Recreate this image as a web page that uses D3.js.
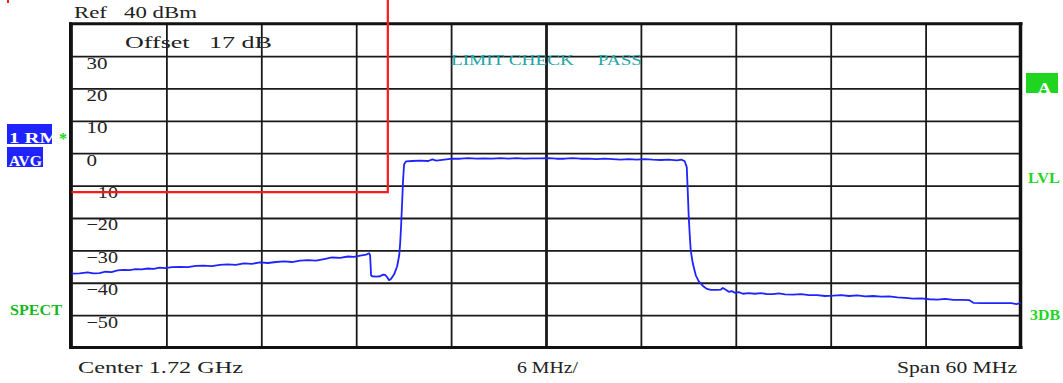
<!DOCTYPE html>
<html>
<head>
<meta charset="utf-8">
<script src="https://cdn.jsdelivr.net/npm/d3@7"></script>
<style>
  html, body { margin: 0; padding: 0; background: #fff; }
  svg { display: block; }
  text { font-family: "Liberation Serif", serif; white-space: pre; }
</style>
</head>
<body>
<div class="screen"></div>
<script>
'use strict';

// Trace 1 (RM / AVG), frequency in MHz, level in dBm
var freqMHz = [
  1690.00, 1690.51, 1691.01, 1691.39, 1691.77, 1692.15, 1692.53, 1692.91, 1693.29, 1693.67,
  1694.05, 1694.44, 1694.82, 1695.20, 1695.58, 1695.96, 1696.34, 1696.84, 1697.35, 1697.86,
  1698.36, 1698.87, 1699.38, 1699.88, 1700.39, 1700.90, 1701.40, 1701.91, 1702.42, 1702.93,
  1703.43, 1703.94, 1704.45, 1704.95, 1705.46, 1705.97, 1706.47, 1706.98, 1707.49, 1707.87,
  1708.25, 1708.63, 1708.82, 1708.88, 1708.94, 1709.01, 1709.26, 1709.51, 1709.70, 1709.83,
  1709.96, 1710.08, 1710.21, 1710.40, 1710.59, 1710.72, 1710.78, 1710.84, 1710.91, 1710.97,
  1711.03, 1711.16, 1711.54, 1712.05, 1712.56, 1712.81, 1713.06, 1713.57, 1714.08, 1714.58,
  1715.09, 1715.60, 1716.10, 1716.61, 1717.12, 1717.62, 1718.13, 1718.64, 1719.14, 1719.65,
  1720.16, 1720.66, 1721.17, 1721.68, 1722.18, 1722.69, 1723.20, 1723.71, 1724.21, 1724.72,
  1725.23, 1725.73, 1726.24, 1726.75, 1727.25, 1727.76, 1728.27, 1728.58, 1728.77, 1728.90,
  1728.96, 1729.02, 1729.09, 1729.15, 1729.28, 1729.47, 1729.66, 1729.92, 1730.17, 1730.42,
  1730.80, 1731.06, 1731.18, 1731.37, 1731.56, 1731.75, 1731.94, 1732.19, 1732.45, 1732.83,
  1733.21, 1733.59, 1733.97, 1734.35, 1734.73, 1735.11, 1735.62, 1736.12, 1736.63, 1737.14,
  1737.64, 1738.15, 1738.66, 1739.16, 1739.67, 1740.18, 1740.69, 1741.19, 1741.70, 1742.21,
  1742.71, 1743.22, 1743.73, 1744.23, 1744.74, 1745.25, 1745.75, 1746.26, 1746.77, 1747.02,
  1747.53, 1748.16, 1748.80, 1749.43, 1749.75, 1750.00
];
var levelDbm = [
  -37.2, -37.1, -36.8, -37.1, -37.0, -36.6, -36.7, -36.2, -36.0, -36.1,
  -35.8, -35.9, -35.6, -35.7, -35.3, -35.5, -35.2, -35.1, -35.2, -34.8,
  -34.7, -34.9, -34.5, -34.3, -34.5, -34.0, -34.2, -33.7, -33.9, -33.6,
  -33.4, -33.6, -33.2, -33.0, -33.2, -32.7, -32.2, -32.3, -31.9, -32.0,
  -31.6, -31.3, -30.9, -31.5, -37.7, -38.0, -38.1, -38.0, -37.5, -37.6,
  -38.3, -39.2, -38.8, -37.4, -34.9, -31.5, -27.8, -22.3, -14.5, -7.7,
  -3.4, -2.5, -2.4, -2.3, -2.4, -1.9, -2.3, -2.0, -1.7, -1.7,
  -1.5, -1.7, -1.6, -1.7, -1.5, -1.7, -1.5, -1.7, -1.6, -1.6,
  -1.5, -1.7, -1.7, -1.5, -1.7, -1.7, -1.8, -1.7, -1.8, -2.0,
  -1.8, -2.0, -1.8, -2.0, -2.1, -2.0, -2.2, -2.0, -2.5, -4.3,
  -11.4, -19.2, -25.4, -30.0, -34.0, -37.7, -39.6, -41.0, -41.9, -42.2,
  -42.2, -42.1, -41.6, -42.2, -42.8, -42.6, -43.1, -42.9, -43.4, -43.2,
  -43.4, -43.2, -43.5, -43.5, -43.3, -43.6, -43.7, -43.5, -43.8, -43.8,
  -44.1, -44.0, -43.8, -44.1, -43.9, -44.2, -44.1, -44.3, -44.2, -44.5,
  -44.7, -44.9, -44.8, -45.1, -45.2, -45.0, -45.3, -45.3, -45.4, -46.2,
  -46.3, -46.3, -46.3, -46.3, -46.6, -46.2
];

// Limit line (goes off the top of the screen)
var limitFreqMHz = [1690, 1710, 1710];
var limitDbm = [-12, -12, 48];

// Grid / tick values
var freqTicks = [1690, 1696, 1702, 1708, 1714, 1720, 1726, 1732, 1738, 1744, 1750];
var levelTicks = [40, 30, 20, 10, 0, -10, -20, -30, -40, -50, -60];
var levelLabels = ['', '30', '20', '10', '0', '\u221210', '\u221220', '\u221230', '\u221240', '\u221250', ''];

(function() {
  var W = 1063;
  var H = 383;
  var left = 71.5;
  var right = 1020.5;
  var top = 23.7;
  var bottom = 347.5;

  var BLUE = '#1f24ff';
  var GREEN = '#1fd51f';

  var svg = d3.select('.screen')
    .append('svg')
    .attr('width', W)
    .attr('height', H)
    .attr('viewBox', '0 0 ' + W + ' ' + H);

  svg.append('rect')
    .attr('width', W)
    .attr('height', H)
    .attr('fill', '#fff');

  // Scales
  var xScale = d3.scaleLinear()
    .domain([1690, 1750])
    .range([left, right]);

  var yScale = d3.scaleLinear()
    .domain([-60, 40])
    .range([bottom, top]);

  // Vertical grid
  var xAxis = d3.axisBottom(xScale)
    .tickValues(freqTicks)
    .tickSizeInner(-(bottom - top))
    .tickSizeOuter(0)
    .tickFormat('');

  var gx = svg.append('g')
    .attr('class', 'grid-x')
    .attr('transform', 'translate(0,' + bottom + ')')
    .call(xAxis);
  gx.select('.domain').remove();
  gx.selectAll('line')
    .attr('stroke', '#1a1a1a')
    .attr('stroke-width', function(d) { return d === 1720 ? 2.8 : 1.8; });

  // Horizontal grid + level labels
  var yAxis = d3.axisLeft(yScale)
    .tickValues(levelTicks)
    .tickSizeInner(-(right - left))
    .tickSizeOuter(0)
    .tickFormat(function(d, i) { return levelLabels[i]; });

  var gy = svg.append('g')
    .attr('class', 'grid-y')
    .attr('transform', 'translate(' + left + ',0)')
    .call(yAxis);
  gy.select('.domain').remove();
  gy.selectAll('line')
    .attr('stroke', '#1a1a1a')
    .attr('stroke-width', 1.8);
  gy.selectAll('text')
    .attr('x', 15)
    .attr('y', 12)
    .attr('dy', null)
    .attr('text-anchor', 'start')
    .attr('fill', '#222')
    .style('font-size', '16.5px')
    .style('font-family', '"Liberation Serif", serif')
    .attr('lengthAdjust', 'spacingAndGlyphs')
    .each(function(d, i) {
      var s = levelLabels[i];
      if (s) d3.select(this).attr('textLength', s.length * 10.5);
    });

  // Frame
  var frame = svg.append('g').attr('class', 'frame').attr('stroke', '#111');
  frame.append('line').attr('x1', left - 1).attr('x2', left - 1).attr('y1', top - 1.5).attr('y2', bottom + 1.5).attr('stroke-width', 3);
  frame.append('line').attr('x1', left - 2.5).attr('x2', right + 2).attr('y1', top).attr('y2', top).attr('stroke-width', 3);
  frame.append('line').attr('x1', left - 2.5).attr('x2', right + 2).attr('y1', bottom).attr('y2', bottom).attr('stroke-width', 3);
  frame.append('line').attr('x1', right).attr('x2', right).attr('y1', top - 1.5).attr('y2', bottom + 1.5).attr('stroke-width', 3.5);

  // Limit line
  var limitLine = d3.line()
    .x(function(d) { return xScale(d[0]); })
    .y(function(d) { return yScale(d[1]); });

  svg.append('path')
    .datum(d3.zip(limitFreqMHz, limitDbm))
    .attr('d', limitLine)
    .attr('fill', 'none')
    .attr('stroke', '#ff1a1a')
    .attr('stroke-width', 2.2);

  // little red mark in the corner
  svg.append('rect')
    .attr('x', 7).attr('y', 0)
    .attr('width', 2).attr('height', 3)
    .attr('fill', '#ff1a1a');

  // Trace
  var traceLine = d3.line()
    .x(function(d) { return xScale(d[0]); })
    .y(function(d) { return yScale(d[1]); });

  svg.append('path')
    .datum(d3.zip(freqMHz, levelDbm))
    .attr('d', traceLine)
    .attr('fill', 'none')
    .attr('stroke', BLUE)
    .attr('stroke-width', 1.8)
    .attr('stroke-linejoin', 'round');

  // Text helper
  var label = function(x, y, str, len, size, color, anchor) {
    var t = svg.append('text')
      .attr('x', x)
      .attr('y', y)
      .attr('fill', color || '#222')
      .attr('text-anchor', anchor || 'start')
      .attr('xml:space', 'preserve')
      .style('font-size', (size || 16.5) + 'px')
      .text(str);
    if (len) t.attr('textLength', len).attr('lengthAdjust', 'spacingAndGlyphs');
    return t;
  };

  label(74, 18, 'Ref   40 dBm', 123);
  label(125, 48, 'Offset   17 dB', 147);
  label(451, 65, 'LIMIT CHECK     PASS', 191, 15, '#22a6a6');
  label(78, 373, 'Center 1.72 GHz', 165);
  label(517, 373, '6 MHz/', 61);
  label(897, 373, 'Span 60 MHz', 120);

  // Left side softkey labels
  svg.append('clipPath').attr('id', 'rmClip')
    .append('rect').attr('x', 7).attr('y', 124).attr('width', 45).attr('height', 20);
  svg.append('rect').attr('x', 7).attr('y', 124).attr('width', 45).attr('height', 20).attr('fill', BLUE);
  label(9, 143, '1 RM', 50, 14.5, '#fff').style('font-weight', 'bold').attr('clip-path', 'url(#rmClip)');
  svg.append('rect').attr('x', 7).attr('y', 147).attr('width', 36).attr('height', 20).attr('fill', BLUE);
  label(9, 166, 'AVG', 33, 14.5, '#fff').style('font-weight', 'bold');
  label(59, 144, '*', 8, 16, GREEN).style('font-weight', 'bold');
  label(10, 315, 'SPECT', 52, 14, '#14b81e').style('font-weight', 'bold');

  // Right side labels
  svg.append('rect').attr('x', 1026).attr('y', 73).attr('width', 32).attr('height', 20).attr('fill', GREEN);
  label(1038, 93, 'A', 13, 14.5, '#fff').style('font-weight', 'bold');
  label(1028, 183, 'LVL', 32, 14, GREEN).style('font-weight', 'bold');
  label(1030, 320, '3DB', 30, 14, GREEN).style('font-weight', 'bold');
})();
</script>
</body>
</html>
